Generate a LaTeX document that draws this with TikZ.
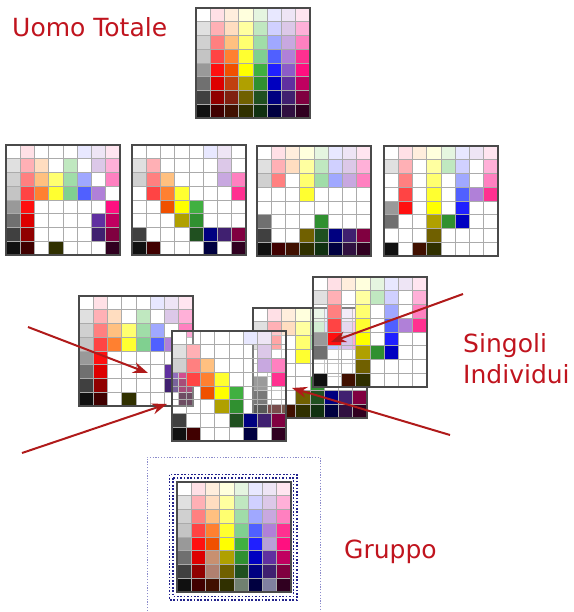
\documentclass[tikz,border=0pt]{standalone}
\usepackage{fontspec}
\setmainfont{DejaVu Sans}
\usetikzlibrary{arrows.meta}

\definecolor{labelred}{HTML}{C0141E}
\definecolor{arrowred}{HTML}{B01A1A}
\definecolor{gridline}{HTML}{ABABAB}
\definecolor{gridframe}{HTML}{4A4A4A}
\definecolor{dotblue}{HTML}{22228C}
\definecolor{framedots}{HTML}{8C8CCC}

% 8x8 colour chart: rows go from light to dark, columns are the hues
\foreach [count=\r] \row in {%
  {FFFFFF,FFE0E6,FFEEDD,FFFFDD,E5F5E0,E8E8FF,EEE5F5,FFE5F0},%
  {E0E0E0,FFB0B5,FFDDC0,FFFFA0,C0E8C0,D0D0FF,DCC8E8,FFB0D8},%
  {D0D0D0,FF8080,FFC080,FFFF70,A0DDA8,A0A8FF,C8A8E0,FF80C0},%
  {C4C4C4,FF4444,FF8030,FFFF30,80D090,5060FF,B080D8,FF3090},%
  {999999,FF1010,F05000,FFFF00,40B040,2020FF,8C5CC8,FF1080},%
  {707070,DD0000,C04010,B0A000,309030,0000C0,6030A0,C00060},%
  {404040,900000,802010,706000,205020,000080,402070,800040},%
  {101010,400000,401000,303000,103010,000040,301040,300020}}{%
  \foreach [count=\c] \h in \row {%
    \edef\x{\noexpand\xglobal\noexpand\definecolor{pal\r\c}{HTML}{\h}}\x
    \edef\x{\noexpand\xglobal\noexpand\colorlet{grp\r\c}{pal\r\c}}\x}}
% mixed cells of the merged chart
\xglobal\definecolor{grp57}{HTML}{B8A0D8}
\xglobal\definecolor{grp63}{HTML}{C89070}
\xglobal\definecolor{grp73}{HTML}{B08070}
\xglobal\definecolor{grp85}{HTML}{708070}
\xglobal\definecolor{grp87}{HTML}{8080A0}

% which cells of the chart each person owns (1 = coloured)
\def\maskall{{1,1,1,1,1,1,1,1},{1,1,1,1,1,1,1,1},{1,1,1,1,1,1,1,1},{1,1,1,1,1,1,1,1},
  {1,1,1,1,1,1,1,1},{1,1,1,1,1,1,1,1},{1,1,1,1,1,1,1,1},{1,1,1,1,1,1,1,1}}
\def\maskone{{1,1,0,0,0,1,1,1},{1,1,1,0,1,0,1,1},{1,1,1,1,1,1,0,1},{1,1,1,1,1,1,1,0},
  {1,1,0,0,0,0,0,1},{1,1,0,0,0,0,1,1},{1,1,0,0,0,0,1,1},{1,1,0,1,0,0,0,1}}
\def\masktwo{{1,0,0,0,0,1,1,0},{1,1,0,0,0,0,1,0},{1,1,1,0,0,0,1,1},{0,1,1,1,0,0,0,1},
  {0,0,1,1,1,0,0,0},{0,0,0,1,1,0,0,0},{1,0,0,0,1,1,1,1},{1,1,0,0,0,1,0,1}}
\def\maskthree{{1,1,1,1,1,1,1,1},{1,1,1,1,1,1,1,1},{1,1,0,1,1,1,1,1},{0,0,0,1,0,0,0,0},
  {0,0,0,0,0,0,0,0},{1,0,0,0,1,0,0,0},{1,0,0,1,1,1,1,1},{1,1,1,1,1,1,1,1}}
\def\maskfour{{1,1,1,1,1,1,1,1},{1,1,0,1,1,1,0,1},{0,1,0,1,0,1,0,1},{0,1,0,1,0,1,1,1},
  {1,1,0,1,0,1,0,0},{1,0,0,1,1,1,0,0},{0,0,0,1,0,0,0,0},{1,0,1,1,0,0,0,0}}

% \colorgrid{left}{top}{mask}{opacity of empty cells}{palette prefix}
\newcommand\colorgrid[5]{%
  \foreach [count=\r] \m in #3 {%
    \foreach [count=\c] \b in \m {%
      \ifnum\b=1
        \edef\cname{#5\r\c}%
        \fill[fill=\cname] ({#1+(\c-1)*14.25},{#2+(\r-1)*13.75}) rectangle ++(14.25,13.75);
      \else
        \fill[white, fill opacity=#4] ({#1+(\c-1)*14.25},{#2+(\r-1)*13.75}) rectangle ++(14.25,13.75);
      \fi}}%
  \foreach \i in {1,...,7} {%
    \draw[cellline] ({#1+\i*14.25},#2) -- ++(0,110);
    \draw[cellline] (#1,{#2+\i*13.75}) -- ++(114,0);}%
  \draw[chartframe] (#1,#2) rectangle ++(114,110);}

\tikzset{
  cellline/.style={gridline, line width=0.6pt},
  chartframe/.style={gridframe, line width=1.1pt},
  lbl/.style={text=labelred, font=\fontsize{25}{30}\selectfont, inner sep=0pt, anchor=base west},
  pointer/.style={arrowred, line width=2pt, -{Stealth[length=15pt,width=11pt]}},
  outerdots/.style={framedots, line width=0.9pt, dash pattern=on 1.2pt off 1.6pt},
  innerdots/.style={dotblue, line width=1.7pt, dash pattern=on 1.7pt off 1.7pt}
}

\begin{document}
\begin{tikzpicture}[x=1pt, y=-1pt]
\useasboundingbox (0,0) rectangle (573,612);

% complete chart
\colorgrid{196}{8}{\maskall}{1}{pal}

% the four single charts
\colorgrid{6}{145}{\maskone}{1}{pal}
\colorgrid{132}{145}{\masktwo}{1}{pal}
\colorgrid{257}{146}{\maskthree}{1}{pal}
\colorgrid{384}{146}{\maskfour}{1}{pal}

% the same charts laid over each other
\colorgrid{79}{296}{\maskone}{1}{pal}
\colorgrid{253}{308}{\maskthree}{0.3}{pal}
\colorgrid{313}{277}{\maskfour}{0.3}{pal}
\colorgrid{172}{331}{\masktwo}{0.3}{pal}

% pointers into the overlapping charts
\coordinate (a1s) at (28,327);  \coordinate (a1t) at (148,373);
\coordinate (a2s) at (22,453);  \coordinate (a2t) at (167,404);
\coordinate (a3s) at (463,294); \coordinate (a3t) at (331,342);
\coordinate (a4s) at (450,435); \coordinate (a4t) at (292,388);
\draw[pointer] (a1s) -- (a1t);
\draw[pointer] (a2s) -- (a2t);
\draw[pointer] (a3s) -- (a3t);
\draw[pointer] (a4s) -- (a4t);

% merged chart with its dotted frames
\draw[outerdots] (147,625) -- (147,457) -- (320,457) -- (320,625);
\draw[innerdots] (169.5,474.5) rectangle (297,600);
\draw[innerdots] (173,478) rectangle (293.5,596.5);
\colorgrid{177}{482}{\maskall}{1}{grp}

% labels
\node[lbl] (uomo) at (12,37) {Uomo Totale};
\node[lbl] (singoli) at (463,352) {Singoli};
\node[lbl] (individui) at (463,383) {Individui};
\node[lbl] (gruppo) at (344,558) {Gruppo};
\end{tikzpicture}
\end{document}
